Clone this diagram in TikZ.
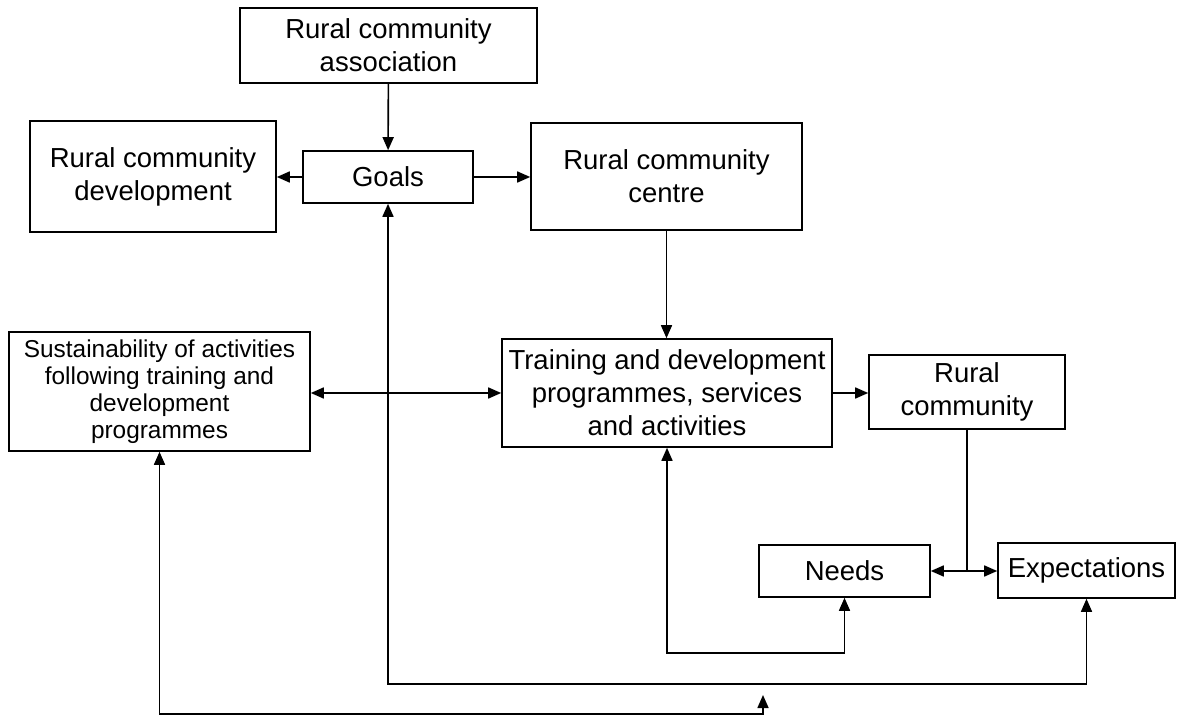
\documentclass[tikz,border=0pt]{standalone}
\usepackage{fontspec}
\setmainfont{Liberation Sans}
\usetikzlibrary{arrows.meta}

\tikzset{
  box/.style={draw, line width=0.8pt, align=center, inner sep=2pt,
    font=\fontsize{13.75}{16.5}\selectfont},
  smallbox/.style={box, font=\fontsize{12.2}{13.5}\selectfont},
}

\begin{document}
\begin{tikzpicture}[x=0.5pt, y=-0.5pt, line width=0.8pt, >={Triangle[length=6.5pt,width=5.5pt]}]
  \useasboundingbox (0,0) rectangle (1178,716);
  % top row
  \node[box, minimum width=148.5pt, minimum height=37.5pt] (assoc) at (388.5,45.5) {Rural community\\association};
  \node[box, minimum width=85pt, minimum height=26pt] (goals) at (388,177) {Goals};
  \node[box, minimum width=123pt, minimum height=55.5pt] (devel) at (153,176.5) {Rural community\\development};
  \node[box, minimum width=135.5pt, minimum height=53.5pt] (centre) at (666.5,176.5) {Rural community\\centre};
  % middle row
  \node[smallbox, minimum width=150.5pt, minimum height=59.5pt] (sustain) at (159.5,391.5) {Sustainability of activities\\following training and\\development\\programmes};
  \node[box, minimum width=165pt, minimum height=54pt] (training) at (667,393) {Training and development\\programmes, services\\and activities};
  \node[box, minimum width=98pt, minimum height=37pt] (rural) at (967,392) {Rural\\community};
  % lower row
  \node[box, minimum width=85.5pt, minimum height=26pt] (needs) at (844.5,571) {Needs};
  \node[box, minimum width=88.5pt, minimum height=27.5pt] (expect) at (1086.5,570.5) {Expectations};

  \coordinate (needsrow) at (0,653);
  \coordinate (goalsrow) at (0,684);
  \coordinate (sustainrow) at (0,714);
  \coordinate (lowtip) at (763,695);
  \coordinate (split) at (rural.south |- needs.east);

  \draw[->] (assoc) -- (goals);
  \draw[->] (goals.west) -- (goals.west -| devel.east);
  \draw[->] (goals.east) -- (goals.east -| centre.west);
  \draw[->] (centre.south) -- (centre.south |- training.north);
  \draw[<->] (training.west -| sustain.east) -- (training.west);
  \draw[->] (training.east) -- (training.east -| rural.west);
  \draw (rural.south) -- (split);
  \draw[->] (split) -- (needs.east);
  \draw[->] (split) -- (split -| expect.west);
  % loops along the bottom
  \draw[<->] (training.south) |- (needs.south |- needsrow) -- (needs.south);
  \draw[<->] (goals.south) |- (expect.south |- goalsrow) -- (expect.south);
  \draw[<->] (sustain.south) |- (lowtip |- sustainrow) -- (lowtip);
\end{tikzpicture}
\end{document}
